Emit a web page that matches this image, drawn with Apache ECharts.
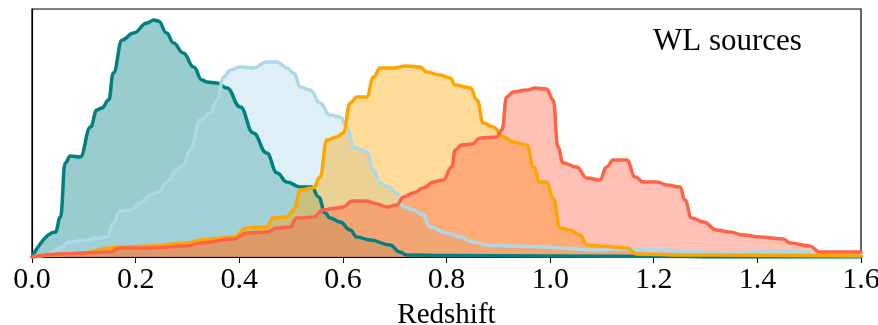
<!DOCTYPE html>
<html>
<head>
<meta charset="utf-8">
<script src="https://cdn.jsdelivr.net/npm/echarts@6/dist/echarts.min.js"></script>
<style>html,body{margin:0;padding:0;background:#fff;}#c{width:878px;height:325px;}</style>
</head>
<body>
<div id="c"></div>
<script>
// Redshift distributions (arbitrary density units)
const tealZ = [0, 0.045, 0.055, 0.064, 0.074, 0.093, 0.113, 0.125, 0.135, 0.148, 0.157, 0.174, 0.196, 0.222, 0.235, 0.244, 0.26, 0.273, 0.292, 0.312, 0.328, 0.338, 0.357, 0.376, 0.402, 0.427, 0.453, 0.473, 0.492, 0.518, 0.540, 0.553, 0.566, 0.575, 0.595, 0.614, 0.627, 0.653, 0.691, 0.710, 0.723, 0.80, 1.0, 1.26, 1.3, 1.6];
const tealN = [0, 25, 40, 94, 101, 100, 130, 147, 149, 157, 184, 217, 224, 234, 237, 236, 224, 214, 204, 190, 177, 175, 174, 169, 150, 124, 104, 84, 75, 70, 70, 60, 44, 39, 35, 27, 20, 17, 12, 5, 2, 1.5, 1, 0.5, 0, 0];

const blueZ = [0, 0.03, 0.05, 0.074, 0.106, 0.125, 0.145, 0.157, 0.170, 0.190, 0.209, 0.228, 0.244, 0.260, 0.280, 0.292, 0.305, 0.325, 0.344, 0.357, 0.370, 0.383, 0.402, 0.427, 0.453, 0.473, 0.492, 0.505, 0.518, 0.537, 0.556, 0.575, 0.595, 0.608, 0.620, 0.646, 0.659, 0.672, 0.691, 0.704, 0.717, 0.736, 0.755, 0.768, 0.800, 0.826, 0.852, 0.878, 0.929, 0.993, 1.019, 1.083, 1.148, 1.212, 1.276, 1.34, 1.437, 1.5, 1.52, 1.6];
const blueN = [0, 2, 8, 15, 17, 19, 20, 34, 46, 47, 54, 62, 65, 75, 87, 92, 107, 137, 144, 157, 180, 187, 190, 189, 195, 195, 189, 184, 170, 167, 154, 142, 140, 130, 110, 105, 87, 74, 69, 64, 50, 47, 42, 30, 24, 20, 15, 12, 11, 10, 9, 7, 8, 7, 5, 4, 6, 5, 2, 2];

const orangeZ = [0, 0.05, 0.10, 0.151, 0.170, 0.230, 0.299, 0.325, 0.389, 0.415, 0.453, 0.466, 0.492, 0.505, 0.518, 0.543, 0.556, 0.569, 0.588, 0.601, 0.614, 0.627, 0.646, 0.659, 0.672, 0.698, 0.723, 0.749, 0.762, 0.788, 0.807, 0.817, 0.846, 0.859, 0.871, 0.890, 0.910, 0.929, 0.955, 0.968, 0.980, 0.993, 1.006, 1.019, 1.038, 1.058, 1.071, 1.096, 1.148, 1.167, 1.26, 1.6];
const orangeN = [0, 2, 4, 9, 10, 11, 14, 17, 20, 29, 30, 39, 40, 47, 67, 69, 80, 117, 120, 124, 154, 160, 160, 180, 189, 189, 191, 190, 185, 182, 179, 172, 169, 157, 134, 130, 120, 115, 112, 90, 75, 75, 59, 29, 27, 22, 12, 11, 9, 3, 2, 1];

const redZ = [0, 0.055, 0.151, 0.170, 0.228, 0.299, 0.325, 0.389, 0.415, 0.453, 0.473, 0.498, 0.511, 0.518, 0.543, 0.562, 0.588, 0.601, 0.617, 0.646, 0.666, 0.685, 0.704, 0.717, 0.736, 0.755, 0.775, 0.794, 0.810, 0.817, 0.829, 0.849, 0.865, 0.897, 0.907, 0.916, 0.929, 0.955, 0.971, 0.993, 1.006, 1.015, 1.025, 1.051, 1.071, 1.096, 1.109, 1.122, 1.148, 1.164, 1.180, 1.206, 1.225, 1.251, 1.260, 1.273, 1.296, 1.321, 1.347, 1.373, 1.405, 1.450, 1.463, 1.501, 1.520, 1.6];
const redN = [0, 3, 5, 9, 9, 11, 14, 18, 24, 25, 29, 30, 39, 39, 40, 47, 49, 50, 56, 56, 53, 50, 52, 60, 64, 69, 75, 77, 90, 107, 112, 113, 119, 120, 127, 160, 165, 167, 169, 168, 157, 110, 94, 90, 79, 77, 90, 97, 97, 80, 75, 75, 72, 70, 57, 39, 35, 27, 25, 22, 20, 18, 14, 11, 5, 5];

const xTickLabels = ['0.0', '0.2', '0.4', '0.6', '0.8', '1.0', '1.2', '1.4', '1.6'];
const xLabel = 'Redshift';
const annotation = 'WL sources';

const seriesDefs = [
  {name: 'teal', z: tealZ, n: tealN, line: '#008080', fill: 'rgba(0,128,128,0.4)'},
  {name: 'lightblue', z: blueZ, n: blueN, line: '#add8e6', fill: 'rgba(173,216,230,0.4)'},
  {name: 'orange', z: orangeZ, n: orangeN, line: '#ffa500', fill: 'rgba(255,165,0,0.4)'},
  {name: 'tomato', z: redZ, n: redN, line: '#ff6347', fill: 'rgba(255,99,71,0.4)'}
];

const serif = '"Liberation Serif", "DejaVu Serif", serif';
const SMOOTH = 0.45;
const series = [];
seriesDefs.forEach((d, i) => {
  const data = d.z.map((x, k) => [x, d.n[k]]);
  series.push({
    type: 'line', name: d.name + '_fill', data, showSymbol: false, smooth: SMOOTH, smoothMonotone: 'x',
    lineStyle: {width: 0, opacity: 0}, areaStyle: {color: d.fill, opacity: 1}, z: 1 + i * 0.01, silent: true
  });
});
seriesDefs.forEach((d, i) => {
  const data = d.z.map((x, k) => [x, d.n[k]]);
  series.push({
    type: 'line', name: d.name, data, showSymbol: false, smooth: SMOOTH, smoothMonotone: 'x',
    lineStyle: {width: 3.5, color: d.line, join: 'round', cap: 'round'}, z: 3 + i * 0.01, silent: true
  });
});

const chart = echarts.init(document.getElementById('c'), null, {renderer: 'canvas'});
chart.setOption({
  animation: false,
  backgroundColor: '#fff',
  grid: {left: 32, top: 9, width: 829, height: 248, show: true, borderColor: '#000', borderWidth: 1.2, containLabel: false, outerBoundsMode: 'none'},
  xAxis: {
    type: 'value', min: 0, max: 1.6, interval: 0.2,
    axisLine: {show: true, lineStyle: {color: '#000', width: 1.2}},
    axisTick: {show: true, inside: false, length: 6, lineStyle: {color: '#000', width: 1}},
    axisLabel: {color: '#000', fontFamily: serif, fontSize: 30, margin: 8,
      formatter: v => xTickLabels[Math.round(v / 0.2)]},
    splitLine: {show: false},
    name: xLabel, nameLocation: 'middle', nameGap: 44,
    nameTextStyle: {color: '#000', fontFamily: serif, fontSize: 29}
  },
  yAxis: {
    type: 'value', min: 0, max: 248,
    axisLine: {show: true, lineStyle: {color: '#000', width: 1.2}},
    axisTick: {show: false}, axisLabel: {show: false}, splitLine: {show: false}
  },
  graphic: [{
    type: 'text', left: 653, top: 26, z: 10,
    style: {text: annotation, font: '31px ' + serif, fill: '#000'}
  }],
  series
});
</script>
</body>
</html>
